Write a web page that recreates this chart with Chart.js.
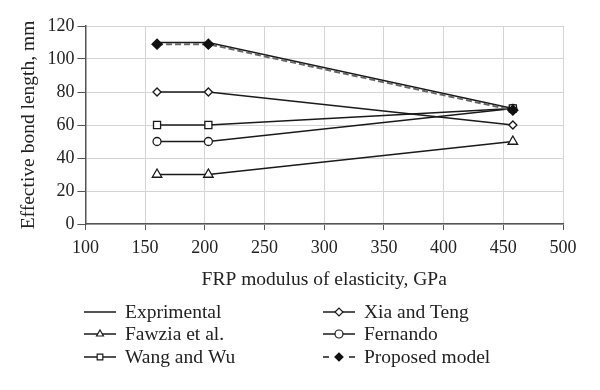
<!DOCTYPE html>
<html>
<head>
<meta charset="utf-8">
<script src="https://cdn.jsdelivr.net/npm/chart.js@4"></script>
<style>
  html, body { margin: 0; padding: 0; background: #fff; }
  #wrap { width: 600px; height: 390px; position: relative; }
</style>
</head>
<body>
<div id="wrap"><canvas id="grafico"></canvas></div>
<script>
// modulus of elasticity (GPa)
const modulos = [160, 203, 458];

const experimental = [110, 110, 70];
const fawzia = [30, 30, 50];
const wangWu = [60, 60, 70];
const xiaTeng = [80, 80, 60];
const fernando = [50, 50, 70];
const propuesto = [109, 109, 69];

const xTicks = [100, 150, 200, 250, 300, 350, 400, 450, 500];
const yTicks = [0, 20, 40, 60, 80, 100, 120];

const fuente = "'Liberation Serif', 'DejaVu Serif', serif";

function puntos(valores) {
    return modulos.map((x, i) => ({ x: x, y: valores[i] }));
}

function serie(label, valores, estilo, radio, extra) {
    return Object.assign({
        label: label,
        data: puntos(valores),
        borderColor: '#1a1a1a',
        borderWidth: 1.5,
        backgroundColor: '#fff',
        pointStyle: estilo,
        pointRadius: radio,
        pointBorderColor: '#1a1a1a',
        pointBackgroundColor: '#fff',
        pointBorderWidth: 1.3,
        tension: 0,
        order: 1
    }, extra || {});
}

const datasets = [
    serie('Exprimental', experimental, false, 0, { borderWidth: 1.5 }),
    serie('Fawzia et al.', fawzia, 'triangle', 5.5),
    serie('Wang and Wu', wangWu, 'rect', 5),
    serie('Xia and Teng', xiaTeng, 'rectRot', 4),
    serie('Fernando', fernando, 'circle', 4),
    serie('Proposed model', propuesto, 'rectRot', 5, {
        borderColor: '#666',
        borderDash: [6, 3],
        borderWidth: 2,
        pointBackgroundColor: '#111',
        pointBorderColor: '#111',
        order: 0
    })
];

// legend in two columns, drawn under the chart
const leyendaPlugin = {
    id: 'leyenda',
    afterDraw(c) {
        const ctx = c.ctx;
        const cols = [[0, 1, 2], [3, 4, 5]];
        const colX = [84, 323];
        const filas = [312, 334, 357];
        ctx.save();
        ctx.font = '19.5px ' + fuente;
        ctx.textBaseline = 'middle';
        cols.forEach((col, ci) => {
            col.forEach((idx, ri) => {
                const ds = c.data.datasets[idx];
                const x0 = colX[ci], y = filas[ri];
                ctx.strokeStyle = '#1a1a1a';
                ctx.lineWidth = 1.5;
                ctx.beginPath();
                if (ds.borderDash) {
                    ctx.moveTo(x0, y); ctx.lineTo(x0 + 6, y);
                    ctx.moveTo(x0 + 26, y); ctx.lineTo(x0 + 32, y);
                } else {
                    ctx.moveTo(x0, y); ctx.lineTo(x0 + 32, y);
                }
                ctx.stroke();
                if (ds.pointStyle) {
                    ctx.fillStyle = ds.pointBackgroundColor;
                    ctx.strokeStyle = ds.pointBorderColor;
                    ctx.lineWidth = 1.2;
                    Chart.helpers.drawPoint(ctx, {
                        pointStyle: ds.pointStyle,
                        radius: 4,
                        rotation: 0,
                        borderWidth: 1.2
                    }, x0 + 16, y);
                }
                ctx.fillStyle = '#222';
                ctx.fillText(ds.label, x0 + 41, y + 1);
            });
        });
        ctx.restore();
    }
};

const ctx = document.getElementById('grafico').getContext('2d');
const chart = new Chart(ctx, {
    type: 'line',
    data: { datasets: datasets },
    options: {
        responsive: true,
        maintainAspectRatio: false,
        animation: false,
        layout: { padding: { top: 26, right: 37, bottom: 98, left: 17 } },
        plugins: {
            legend: { display: false },
            tooltip: { enabled: false }
        },
        scales: {
            x: {
                type: 'linear',
                min: 100,
                max: 500,
                afterBuildTicks: s => { s.ticks = xTicks.map(v => ({ value: v })); },
                grid: { color: '#d4d4d4', tickColor: '#555', tickLength: 6 },
                border: { color: '#555', width: 1.5 },
                ticks: { color: '#222', font: { family: fuente, size: 18 }, padding: 7 },
                title: {
                    display: true,
                    text: 'FRP modulus of elasticity, GPa',
                    color: '#222',
                    font: { family: fuente, size: 19.5 },
                    padding: { top: 3, bottom: 0 }
                }
            },
            y: {
                min: 0,
                max: 120,
                afterBuildTicks: s => { s.ticks = yTicks.map(v => ({ value: v })); },
                grid: { color: '#d4d4d4', tickColor: '#555', tickLength: 8 },
                border: { color: '#555', width: 1.5 },
                ticks: { color: '#222', font: { family: fuente, size: 18 }, padding: 3 },
                title: {
                    display: true,
                    text: 'Effective bond length, mm',
                    color: '#222',
                    font: { family: fuente, size: 19.5 },
                    padding: { top: 0, bottom: 4 }
                }
            }
        }
    },
    plugins: [leyendaPlugin]
});
</script>
</body>
</html>
